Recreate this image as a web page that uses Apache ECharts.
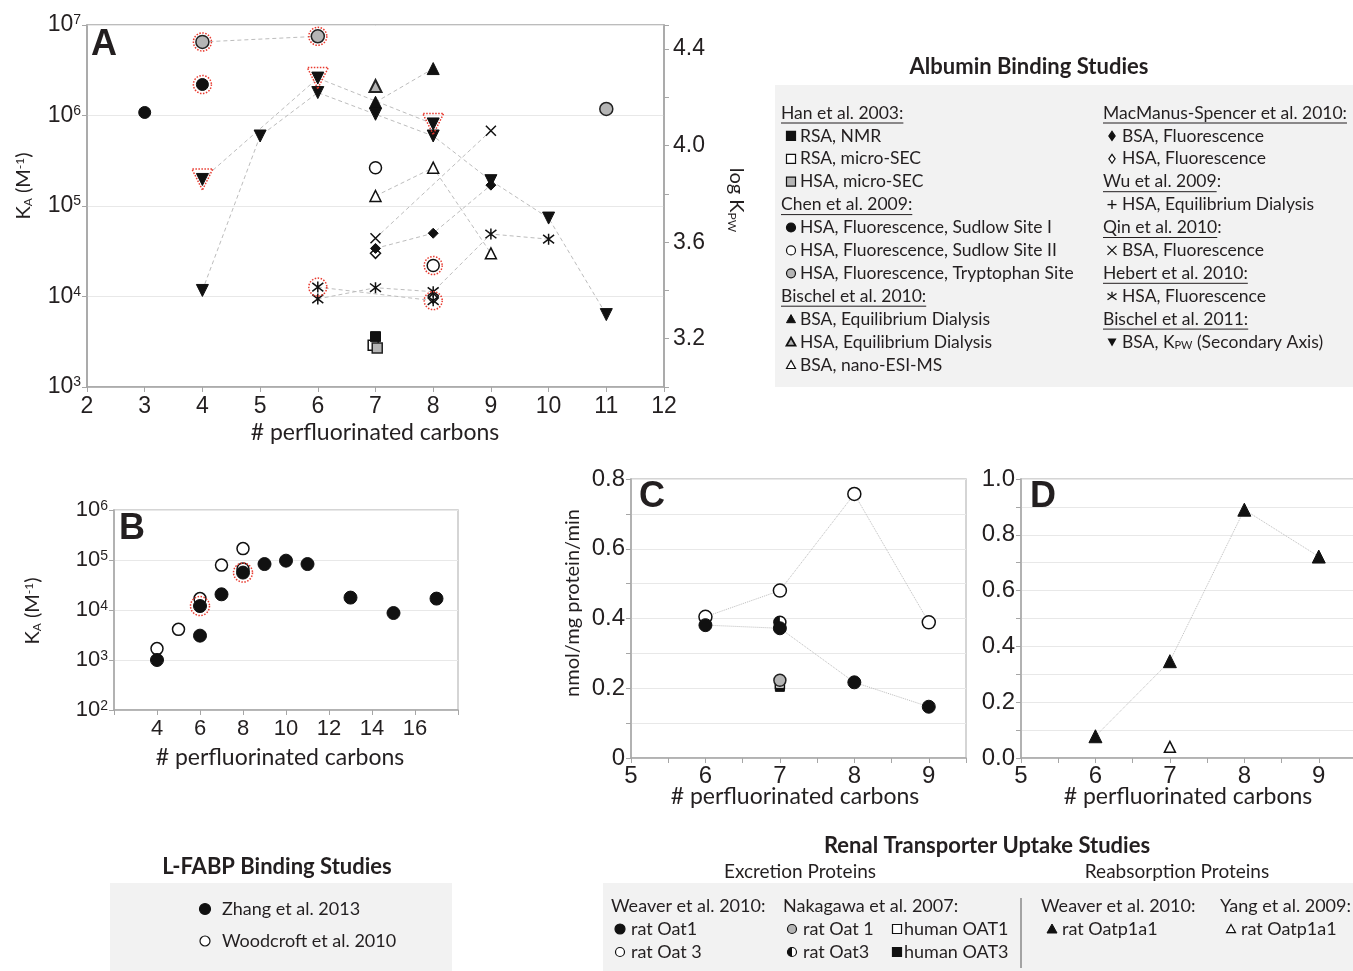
<!DOCTYPE html>
<html>
<head>
<meta charset="utf-8">
<script src="https://cdn.jsdelivr.net/npm/echarts@6/dist/echarts.min.js"></script>
<style>
  html, body { margin: 0; background: #fff; }
  #chart { width: 1353px; height: 971px; }
</style>
</head>
<body>
<div id="chart"></div>
<script>
// ---------- Panel A: albumin binding, K_A (M-1) vs chain length
const hanRsaNmr = [[7, 3600]];
const hanRsaSec = [[6.96, 2900]];
const hanHsaSec = [[7.03, 2700]];
const chenSite1 = [[3, 1.08e6], [4, 2.2e6]];
const chenSite2 = [[7, 2.65e5], [8, 2.2e4]];
const chenTrp = [[4, 6.5e6], [6, 7.5e6], [11, 1.18e6]];
const bischelBsaEd = [[7, 1.4e6], [8, 3.3e6]];
const bischelHsaEd = [[7, 2.12e6]];
const bischelEsi = [[7, 1.29e5], [8, 2.65e5], [9, 3.0e4]];
const macBsa = [[7, 3.4e4], [8, 5.0e4], [9, 1.7e5]];
const macHsa = [[7, 3.0e4], [8, 9.6e3]];
const qinBsa = [[7, 4.4e4], [9, 6.8e5]];
const hebertHsa = [[6, 9.4e3], [7, 1.25e4], [8, 1.13e4], [9, 4.9e4], [10, 4.3e4]];
const hebertBranched = [[6, 1.27e4], [8, 9.0e3]];
// secondary axis, log K_PW
const bischelKpw = [[4, 3.40], [5, 4.04], [6, 4.22], [7, 4.13], [8, 4.04], [9, 3.855], [10, 3.70], [11, 3.30]];
const bischelKpwBranched = [[4, 3.86], [6, 4.28], [8, 4.09]];
const kpwTicks = [3.2, 3.6, 4.0, 4.4];

// ---------- Panel B: L-FABP binding
const zhang2013 = [[4, 1000], [6, 3070], [6, 1.2e4], [7, 2.06e4], [8, 5.6e4], [9, 8.3e4], [10, 9.7e4], [11, 8.3e4], [13, 1.77e4], [15, 8.7e3], [17, 1.69e4]];
const woodcroft2010 = [[4, 1690], [5, 4100], [6, 1.69e4], [7, 7.9e4], [8, 1.69e5], [8, 6.6e4]];

// ---------- Panel C: excretion proteins, nmol/mg protein/min
const weaverOat1 = [[6, 0.381], [7, 0.372], [8, 0.217], [9, 0.147]];
const weaverOat3 = [[6, 0.405], [7, 0.48], [8, 0.757], [9, 0.389]];
const nakagawaRatOat1 = [[7, 0.223]];
const nakagawaRatOat3 = [[7, 0.389]];
const nakagawaHumanOat1 = [[7, 0.212]];
const nakagawaHumanOat3 = [[7, 0.204]];

// ---------- Panel D: reabsorption proteins
const weaverOatp1a1 = [[6, 0.078], [7, 0.347], [8, 0.89], [9, 0.722]];
const yangOatp1a1 = [[7, 0.04]];

// red dotted highlights
const ringA = [chenTrp[0], chenTrp[1], chenSite1[1], chenSite2[1], hebertBranched[0], hebertBranched[1]];
const ringB = [zhang2013[2], zhang2013[4]];

const SANS = 'Lato, "Open Sans", sans-serif';
const ARIAL = '"Liberation Sans", Arial, sans-serif';
const INK = '#231f20';
const AXIS = '#a6a6a6';
const GRIDLINE = '#e8e8e8';

const CROSS = 'path://M0,0L10,10M10,0L0,10';
const STAR = 'path://M0,1.5L10,11.5M10,1.5L0,11.5M5,0L5,13';
const HALF = 'path://M50,0A50,50,0,0,0,50,100Z';

const filled = { color: '#111', borderColor: '#111', borderWidth: 1, opacity: 1 };
const open = { color: '#fff', borderColor: '#111', borderWidth: 1.5, opacity: 1 };
const grey = { color: '#b5b5b5', borderColor: '#222', borderWidth: 1.5, opacity: 1 };
const strokeOnly = { color: 'transparent', borderColor: '#111', borderWidth: 1.5, opacity: 1 };
const ring = { color: 'transparent', borderColor: '#e8392e', borderWidth: 1.5, borderType: 'dotted', opacity: 1 };

function sc (data, xi, yi, symbol, size, style, extra) {
  return Object.assign({
    type: 'scatter', xAxisIndex: xi, yAxisIndex: yi, data: data,
    symbol: symbol, symbolSize: size, itemStyle: style, silent: true, z: 3
  }, extra || {})
}
function ln (data, xi, yi, dash) {
  return {
    type: 'line', xAxisIndex: xi, yAxisIndex: yi, data: data, symbol: 'none', silent: true, z: 2,
    lineStyle: { color: '#bdbdbd', width: 1, type: dash }
  }
}

const axisLine = { show: true, lineStyle: { color: AXIS, width: 1.5 } };
const axisTick = { show: true, inside: false, length: 5, lineStyle: { color: AXIS, width: 1 } };
const split = { show: true, lineStyle: { color: GRIDLINE, width: 1 } };
const noSplit = { show: false };

function tickFont (size) {
  return { fontSize: size, fontFamily: ARIAL, color: INK };
}
function logLabel (size, sup, margin) {
  return {
    margin: margin,
    formatter: v => '{b|10}{p|' + Math.round(Math.log10(v)) + '}',
    rich: {
      b: tickFont(size),
      p: Object.assign(tickFont(sup), { verticalAlign: 'top' })
    }
  }
}

// ---------- text / legend graphics
const graphics = [];
const measure = document.createElement('canvas').getContext('2d');
function textW (s, size) {
  measure.font = size + 'px Lato';
  return measure.measureText(s).width;
}
function txt (x, y, text, size, align, extra) {
  align = align || 'left';
  return {
    type: 'text', x: x, y: y, silent: true,
    style: Object.assign({
      text: text, fontSize: size, fontFamily: SANS, fill: INK,
      align: align, textAlign: align, verticalAlign: 'middle', textVerticalAlign: 'middle'
    }, extra || {})
  }
}
function mk (kind, x, y, s) {
  const h = s / 2;
  const ink = '#111';
  const line = (x1, y1, x2, y2) => ({ type: 'line', silent: true, shape: { x1, y1, x2, y2 }, style: { stroke: ink, lineWidth: 1.3 } });
  const sq = fill => ({ type: 'rect', silent: true, shape: { x: x - h, y: y - h, width: s, height: s }, style: { fill: fill, stroke: ink, lineWidth: 1.2 } });
  const ci = fill => ({ type: 'circle', silent: true, shape: { cx: x, cy: y, r: h }, style: { fill: fill, stroke: ink, lineWidth: 1.2 } });
  const tri = (fill, lw) => ({ type: 'polygon', silent: true, shape: { points: [[x, y - h], [x + h, y + h * 0.8], [x - h, y + h * 0.8]] }, style: { fill: fill, stroke: ink, lineWidth: lw } });
  const dia = fill => ({ type: 'polygon', silent: true, shape: { points: [[x, y - h], [x + h * 0.7, y], [x, y + h], [x - h * 0.7, y]] }, style: { fill: fill, stroke: ink, lineWidth: 1.2 } });
  switch (kind) {
    case 'sqB': return [sq(ink)];
    case 'sqO': return [sq('#fff')];
    case 'sqG': return [sq('#b5b5b5')];
    case 'ciB': return [ci(ink)];
    case 'ciO': return [ci('#fff')];
    case 'ciG': return [ci('#b5b5b5')];
    case 'half': return [ci('#fff'), { type: 'sector', silent: true, shape: { cx: x, cy: y, r: h, startAngle: Math.PI / 2, endAngle: Math.PI * 1.5 }, style: { fill: ink } }];
    case 'triB': return [tri(ink, 1)];
    case 'triG': return [tri('#b5b5b5', 1.8)];
    case 'triO': return [tri('#fff', 1.2)];
    case 'triD': return [{ type: 'polygon', silent: true, shape: { points: [[x - h, y - h * 0.8], [x + h, y - h * 0.8], [x, y + h]] }, style: { fill: ink } }];
    case 'diaB': return [dia(ink)];
    case 'diaO': return [dia('#fff')];
    case 'plus': return [line(x - h, y, x + h, y), line(x, y - h, x, y + h)];
    case 'cross': return [line(x - h, y - h, x + h, y + h), line(x + h, y - h, x - h, y + h)];
    case 'star': return [line(x - h, y - h * 0.6, x + h, y + h * 0.8), line(x + h, y - h * 0.6, x - h, y + h * 0.8), line(x, y - h, x, y + h * 0.2)];
  }
  return []
}

const albLeft = [
  ['h', 'Han et al. 2003:'],
  ['sqB', 'RSA, NMR'],
  ['sqO', 'RSA, micro-SEC'],
  ['sqG', 'HSA, micro-SEC'],
  ['h', 'Chen et al. 2009:'],
  ['ciB', 'HSA, Fluorescence, Sudlow Site I'],
  ['ciO', 'HSA, Fluorescence, Sudlow Site II'],
  ['ciG', 'HSA, Fluorescence, Tryptophan Site'],
  ['h', 'Bischel et al. 2010:'],
  ['triB', 'BSA, Equilibrium Dialysis'],
  ['triG', 'HSA, Equilibrium Dialysis'],
  ['triO', 'BSA, nano-ESI-MS']
];
const albRight = [
  ['h', 'MacManus-Spencer et al. 2010:'],
  ['diaB', 'BSA, Fluorescence'],
  ['diaO', 'HSA, Fluorescence'],
  ['h', 'Wu et al. 2009', ':'],
  ['plus', 'HSA, Equilibrium Dialysis'],
  ['h', 'Qin et al. 2010', ':'],
  ['cross', 'BSA, Fluorescence'],
  ['h', 'Hebert et al. 2010:'],
  ['star', 'HSA, Fluorescence'],
  ['h', 'Bischel et al. 2011:'],
  ['triD', 'kpw']
];

const LF = 17.5;
function legendColumn (rows, hx, sx, tx) {
  rows.forEach((r, i) => {
    const y = 113 + i * 22.9;
    if (r[0] === 'h') {
      graphics.push(txt(hx, y, r[1] + (r[2] || ''), LF));
      const w = textW(r[1], LF);
      graphics.push({ type: 'line', silent: true, shape: { x1: hx, y1: y + 10, x2: hx + w, y2: y + 10 }, style: { stroke: INK, lineWidth: 1 } });
    } else {
      mk(r[0], sx, y, 9).forEach(e => graphics.push(e));
      if (r[1] === 'kpw') {
        graphics.push({
          type: 'text', x: tx, y: y, silent: true,
          style: {
            text: '{a|BSA, K}{s|PW}{a| (Secondary Axis)}',
            verticalAlign: 'middle', textVerticalAlign: 'middle',
            rich: {
              a: { fontSize: LF, fontFamily: SANS, color: INK, fill: INK },
              s: { fontSize: 11, fontFamily: SANS, color: INK, fill: INK, verticalAlign: 'bottom' }
            }
          }
        });
      } else {
        graphics.push(txt(tx, y, r[1], LF));
      }
    }
  });
}

graphics.push({ type: 'rect', silent: true, z: -1, shape: { x: 775, y: 85, width: 580, height: 302 }, style: { fill: '#f2f2f2' } });
graphics.push({ type: 'rect', silent: true, z: -1, shape: { x: 110, y: 883, width: 342, height: 88 }, style: { fill: '#f2f2f2' } });
graphics.push({ type: 'rect', silent: true, z: -1, shape: { x: 603, y: 883, width: 752, height: 88 }, style: { fill: '#f2f2f2' } });
legendColumn(albLeft, 781, 791, 800);
legendColumn(albRight, 1103, 1112, 1122);

graphics.push(
  txt(1029, 67, 'Albumin Binding Studies', 22, 'center', { fontWeight: 'bold' }),
  txt(277, 867, 'L-FABP Binding Studies', 22, 'center', { fontWeight: 'bold' }),
  txt(987, 846, 'Renal Transporter Uptake Studies', 22, 'center', { fontWeight: 'bold' }),
  txt(800, 872, 'Excretion Proteins', 19, 'center'),
  txt(1177, 872, 'Reabsorption Proteins', 19, 'center'),
  txt(222, 909, 'Zhang et al. 2013', 18),
  txt(222, 941, 'Woodcroft et al. 2010', 18),
  txt(611, 906, 'Weaver et al. 2010:', 18),
  txt(631, 929, 'rat Oat1', 18),
  txt(631, 952, 'rat Oat 3', 18),
  txt(783, 906, 'Nakagawa et al. 2007:', 18),
  txt(803, 929, 'rat Oat 1', 18),
  txt(803, 952, 'rat Oat3', 18),
  txt(904, 929, 'human OAT1', 18),
  txt(904, 952, 'human OAT3', 18),
  txt(1041, 906, 'Weaver et al. 2010:', 18),
  txt(1062, 929, 'rat Oatp1a1', 18),
  txt(1220, 906, 'Yang et al. 2009:', 18),
  txt(1241, 929, 'rat Oatp1a1', 18),
  { type: 'line', silent: true, shape: { x1: 1021, y1: 898, x2: 1021, y2: 968 }, style: { stroke: '#555', lineWidth: 1 } }
);
[['ciB', 205, 909, 11], ['ciO', 205, 941, 10], ['ciB', 620, 929, 10], ['ciO', 620, 952, 9],
  ['ciG', 792, 929, 9], ['half', 792, 952, 9], ['sqO', 897, 929, 9], ['sqB', 897, 952, 9],
  ['triB', 1052, 929, 10], ['triO', 1231, 929, 9]].forEach(m => mk(m[0], m[1], m[2], m[3]).forEach(e => graphics.push(e)));

// panel letters and axis titles
const bold = { fontFamily: ARIAL, fontWeight: 'bold' };
graphics.push(
  txt(91, 45, 'A', 36, 'left', bold),
  txt(119, 529, 'B', 36, 'left', bold),
  txt(639, 497, 'C', 36, 'left', bold),
  txt(1030, 497, 'D', 36, 'left', bold),
  txt(375, 433, '# perfluorinated carbons', 23, 'center'),
  txt(280, 758, '# perfluorinated carbons', 23, 'center'),
  txt(795, 797, '# perfluorinated carbons', 23, 'center'),
  txt(1188, 797, '# perfluorinated carbons', 23, 'center')
);
function rotTitle (x, y, text, rot, rich) {
  return {
    type: 'text', x: x, y: y, rotation: rot, silent: true,
    style: {
      text: text, fontSize: 20, fontFamily: SANS, fill: INK,
      align: 'center', textAlign: 'center', verticalAlign: 'middle', textVerticalAlign: 'middle',
      rich: rich
    }
  }
}
const kaRich = {
  t: { fontSize: 20, fontFamily: SANS, color: INK, fill: INK },
  sub: { fontSize: 12, fontFamily: SANS, color: INK, fill: INK, verticalAlign: 'bottom' },
  sup: { fontSize: 12, fontFamily: SANS, color: INK, fill: INK, verticalAlign: 'top' }
};
graphics.push(
  rotTitle(24, 186, '{t|K}{sub|A}{t| (M}{sup|-1}{t|)}', Math.PI / 2, kaRich),
  rotTitle(33, 611, '{t|K}{sub|A}{t| (M}{sup|-1}{t|)}', Math.PI / 2, kaRich),
  rotTitle(736, 200, '{t|log K}{sub|PW}', -Math.PI / 2, kaRich),
  rotTitle(573, 603, 'nmol/mg protein/min', Math.PI / 2)
);

const evenTenths = (v, zero) => {
  const r = Math.round(v * 10);
  if (r % 2) return '';
  return r === 0 && zero ? zero : (r / 10).toFixed(1);
};
const intOnly = v => (Math.abs(v - Math.round(v)) < 1e-6 ? String(Math.round(v)) : '');

const chart = echarts.init(document.getElementById('chart'));
chart.setOption({
  animation: false,
  backgroundColor: '#fff',
  grid: [
    { left: 87, top: 25, width: 577, height: 362, show: true, borderColor: AXIS, borderWidth: 1.5, outerBoundsMode: 'none' },
    { left: 114, top: 510, width: 344, height: 200, show: true, borderColor: '#c8c8c8', borderWidth: 1.5, outerBoundsMode: 'none' },
    { left: 631, top: 479, width: 335, height: 279, show: true, borderColor: '#c8c8c8', borderWidth: 1.5, outerBoundsMode: 'none' },
    { left: 1021, top: 479, width: 335, height: 279, show: true, borderColor: '#c8c8c8', borderWidth: 1.5, outerBoundsMode: 'none' }
  ],
  xAxis: [
    { gridIndex: 0, type: 'value', min: 2, max: 12, interval: 1, axisLine, axisTick, splitLine: noSplit,
      axisLabel: Object.assign(tickFont(23), { margin: 8 }) },
    { gridIndex: 1, type: 'value', min: 2, max: 18, interval: 2, axisLine, axisTick, splitLine: noSplit,
      axisLabel: Object.assign(tickFont(22), { margin: 8, formatter: v => (v === 2 || v === 18 ? '' : v) }) },
    { gridIndex: 2, type: 'value', min: 5, max: 9.5, interval: 0.5, axisLine, axisTick, splitLine: noSplit,
      axisLabel: Object.assign(tickFont(24), { margin: 6, formatter: intOnly }) },
    { gridIndex: 3, type: 'value', min: 5, max: 9.5, interval: 0.5, axisLine, axisTick, splitLine: noSplit,
      axisLabel: Object.assign(tickFont(24), { margin: 6, formatter: intOnly }) }
  ],
  yAxis: [
    { gridIndex: 0, type: 'log', logBase: 10, min: 1e3, max: 1e7, axisLine, axisTick, splitLine: split,
      axisLabel: logLabel(23, 14, 6) },
    { gridIndex: 0, type: 'value', position: 'right', min: 3.0, max: 4.5, interval: 0.2, axisLine, axisTick, splitLine: noSplit,
      axisLabel: Object.assign(tickFont(23), { margin: 9, formatter: v => (kpwTicks.some(t => Math.abs(t - v) < 1e-6) ? v.toFixed(1) : '') }) },
    { gridIndex: 1, type: 'log', logBase: 10, min: 1e2, max: 1e6, axisLine, axisTick, splitLine: split,
      axisLabel: logLabel(22, 14, 6) },
    { gridIndex: 2, type: 'value', min: 0, max: 0.8, interval: 0.1, axisLine, axisTick, splitLine: split,
      axisLabel: Object.assign(tickFont(24), { margin: 6, formatter: v => evenTenths(v, '0') }) },
    { gridIndex: 3, type: 'value', min: 0, max: 1.0, interval: 0.1, axisLine, axisTick, splitLine: split,
      axisLabel: Object.assign(tickFont(24), { margin: 6, formatter: v => evenTenths(v) }) }
  ],
  graphic: { elements: graphics },
  series: [
    // panel A connections
    ln(chenTrp.slice(0, 2), 0, 0, [4, 3]),
    ln(bischelBsaEd, 0, 0, [4, 3]),
    ln(bischelEsi, 0, 0, [4, 3]),
    ln(macBsa, 0, 0, [4, 3]),
    ln(qinBsa, 0, 0, [4, 3]),
    ln(hebertHsa, 0, 0, [4, 3]),
    ln(hebertBranched, 0, 0, [4, 3]),
    ln(bischelKpw, 0, 1, [4, 3]),
    ln(bischelKpwBranched, 0, 1, [4, 3]),
    // panel A markers
    sc(hanRsaSec, 0, 0, 'rect', 10, open),
    sc(hanRsaNmr, 0, 0, 'rect', 10, filled),
    sc(hanHsaSec, 0, 0, 'rect', 10, grey),
    sc(chenSite1, 0, 0, 'circle', 12, filled),
    sc(chenSite2, 0, 0, 'circle', 12, open),
    sc(chenTrp, 0, 0, 'circle', 13, grey),
    sc(bischelHsaEd, 0, 0, 'triangle', 12, Object.assign({}, grey, { borderWidth: 2 })),
    sc(bischelBsaEd, 0, 0, 'triangle', 12, filled),
    sc(bischelEsi, 0, 0, 'triangle', 11, open),
    sc(macHsa, 0, 0, 'diamond', 10, open),
    sc(macBsa, 0, 0, 'diamond', 10, filled),
    sc(qinBsa, 0, 0, CROSS, 10, strokeOnly),
    sc(hebertHsa, 0, 0, STAR, 11, strokeOnly),
    sc(hebertBranched, 0, 0, STAR, 11, strokeOnly),
    sc(bischelKpw, 0, 1, 'triangle', 12, filled, { symbolRotate: 180 }),
    sc(bischelKpwBranched, 0, 1, 'triangle', 12, filled, { symbolRotate: 180 }),
    sc(ringA, 0, 0, 'circle', 18, ring, { z: 4 }),
    sc(bischelKpwBranched, 0, 1, 'triangle', 21, ring, { symbolRotate: 180, z: 4 }),
    // panel B
    sc(woodcroft2010, 1, 2, 'circle', 12, open),
    sc(zhang2013, 1, 2, 'circle', 13, filled),
    sc(ringB, 1, 2, 'circle', 19, ring, { z: 4 }),
    // panel C
    ln(weaverOat3, 2, 3, 'dotted'),
    ln(weaverOat1, 2, 3, 'dotted'),
    sc(weaverOat3, 2, 3, 'circle', 13, open),
    sc(nakagawaRatOat3, 2, 3, 'circle', 12, open),
    sc(nakagawaRatOat3, 2, 3, HALF, 12, { color: '#111', opacity: 1 }, { symbolKeepAspect: true, symbolOffset: [-3, 0] }),
    sc(weaverOat1, 2, 3, 'circle', 13, filled),
    sc(nakagawaHumanOat3, 2, 3, 'rect', 9, filled),
    sc(nakagawaHumanOat1, 2, 3, 'rect', 9, open),
    sc(nakagawaRatOat1, 2, 3, 'circle', 12, grey),
    // panel D
    ln(weaverOatp1a1, 3, 4, 'dotted'),
    sc(weaverOatp1a1, 3, 4, 'triangle', 13, filled),
    sc(yangOatp1a1, 3, 4, 'triangle', 11, open)
  ]
});
</script>
</body>
</html>
